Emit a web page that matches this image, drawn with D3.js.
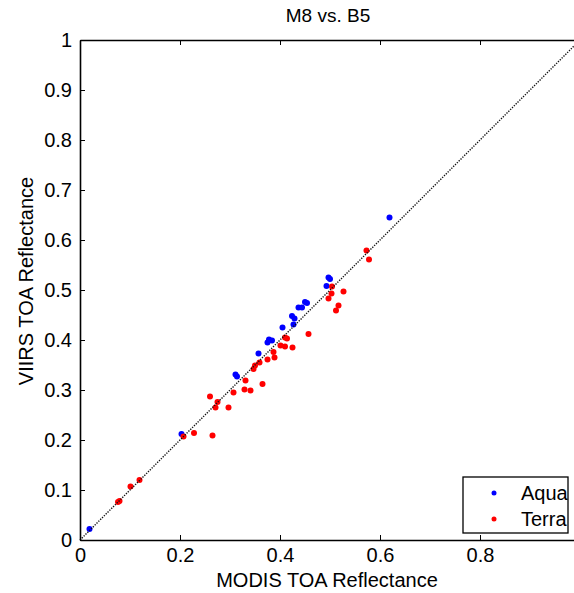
<!doctype html>
<html>
<head>
<meta charset="utf-8">
<script src="https://cdnjs.cloudflare.com/ajax/libs/d3/7.8.5/d3.min.js"></script>
<style>
  body { margin: 0; background: #fff; }
  svg text { font-family: "Liberation Sans", Arial, sans-serif; fill: #000; }
</style>
</head>
<body>
<svg id="chart" width="574" height="593"></svg>
<script>
// values
var aquaX = [0.019, 0.203, 0.311, 0.314, 0.357, 0.375, 0.378, 0.384, 0.405, 0.427, 0.424, 0.429,
             0.437, 0.444, 0.450, 0.454, 0.493, 0.497, 0.500, 0.619];
var aquaY = [0.022, 0.212, 0.331, 0.327, 0.373, 0.395, 0.401, 0.399, 0.425, 0.431, 0.448, 0.443,
             0.465, 0.465, 0.476, 0.474, 0.508, 0.525, 0.522, 0.645];
var terraX = [0.076, 0.079, 0.101, 0.119, 0.207, 0.228, 0.265, 0.260, 0.275, 0.271, 0.297, 0.307,
              0.331, 0.329, 0.341, 0.365, 0.347, 0.350, 0.359, 0.375, 0.389, 0.387, 0.401, 0.410,
              0.425, 0.410, 0.414, 0.457, 0.497, 0.503, 0.504, 0.527, 0.517, 0.512, 0.573, 0.578];
var terraY = [0.076, 0.078, 0.107, 0.120, 0.207, 0.214, 0.209, 0.287, 0.276, 0.265, 0.265, 0.295,
              0.319, 0.301, 0.299, 0.312, 0.342, 0.349, 0.355, 0.361, 0.365, 0.376, 0.389, 0.387,
              0.385, 0.405, 0.403, 0.412, 0.483, 0.493, 0.507, 0.497, 0.469, 0.459, 0.579, 0.561];
var xTicks = [0, 0.2, 0.4, 0.6, 0.8, 1];
var yTicks = [0, 0.1, 0.2, 0.3, 0.4, 0.5, 0.6, 0.7, 0.8, 0.9, 1];
var seriesNames = ["Aqua", "Terra"];
var seriesColors = ["#0000ff", "#ff0000"];

var svg = d3.select("#chart");
// plot box (right side sits just past the window edge, as in the picture)
var mLeft = 80, mRight = 580, mTop = 40, mBottom = 540;

var x = d3.scaleLinear().domain([0, 1]).range([mLeft, mRight]);
var y = d3.scaleLinear().domain([0, 1]).range([mBottom, mTop]);
var fmt = function(d) { return String(+d.toFixed(1)); };
// the 1 under the x axis falls outside the window, so leave it out
var fmtX = function(d) { return d === 1 ? "" : fmt(d); };

// points: Aqua first, Terra over it
function drawSeries(xs, ys, color) {
    svg.append("g").selectAll("circle")
        .data(xs)
        .enter().append("circle")
        .attr("cx", function(d) { return x(d); })
        .attr("cy", function(d, i) { return y(ys[i]); })
        .attr("r", 3)
        .attr("fill", color);
}
drawSeries(aquaX, aquaY, seriesColors[0]);
drawSeries(terraX, terraY, seriesColors[1]);

// 1:1 line, dotted, on top of the points
svg.append("line")
    .attr("x1", x(0)).attr("y1", y(0))
    .attr("x2", x(1)).attr("y2", y(1))
    .attr("stroke", "#111")
    .attr("stroke-width", 1.4)
    .attr("stroke-dasharray", "1.3,1.3");

// axes, ticks pointing in like matlab
var gx = svg.append("g").attr("transform", "translate(0," + mBottom + ")")
    .call(d3.axisBottom(x).tickValues(xTicks).tickFormat(fmtX).tickSizeInner(-5).tickSizeOuter(0).tickPadding(8));
var gy = svg.append("g").attr("transform", "translate(" + mLeft + ",0)")
    .call(d3.axisLeft(y).tickValues(yTicks).tickFormat(fmt).tickSizeInner(-5).tickSizeOuter(0).tickPadding(8));
var gt = svg.append("g").attr("transform", "translate(0," + mTop + ")")
    .call(d3.axisTop(x).tickValues(xTicks).tickFormat("").tickSizeInner(-5).tickSizeOuter(0));
var gr = svg.append("g").attr("transform", "translate(" + mRight + ",0)")
    .call(d3.axisRight(y).tickValues(yTicks).tickFormat("").tickSizeInner(-5).tickSizeOuter(0));

[gx, gy, gt, gr].forEach(function(g) {
    g.select(".domain").attr("stroke", "#000").attr("stroke-width", 1.6);
    g.selectAll(".tick line").attr("stroke", "#000").attr("stroke-width", 1);
    g.selectAll(".tick text").attr("font-size", 20).attr("fill", "#000")
        .attr("font-family", "'Liberation Sans', Arial, sans-serif");
});

// title and labels
svg.append("text").attr("x", 328).attr("y", 22).attr("text-anchor", "middle")
    .attr("font-size", 19).text("M8 vs. B5");
svg.append("text").attr("x", 327).attr("y", 587).attr("text-anchor", "middle")
    .attr("font-size", 20).text("MODIS TOA Reflectance");
svg.append("text").attr("transform", "translate(33,281) rotate(-90)").attr("text-anchor", "middle")
    .attr("font-size", 20).text("VIIRS TOA Reflectance");

// legend
var legend = svg.append("g");
legend.append("rect")
    .attr("x", 463).attr("y", 477).attr("width", 105).attr("height", 56)
    .attr("fill", "#fff").attr("stroke", "#000").attr("stroke-width", 1.3);
seriesNames.forEach(function(name, i) {
    legend.append("circle").attr("cx", 494).attr("cy", 493 + i * 26).attr("r", 2.5)
        .attr("fill", seriesColors[i]);
    legend.append("text").attr("x", 521).attr("y", 500 + i * 26)
        .attr("font-size", 20).text(name);
});
</script>
</body>
</html>
